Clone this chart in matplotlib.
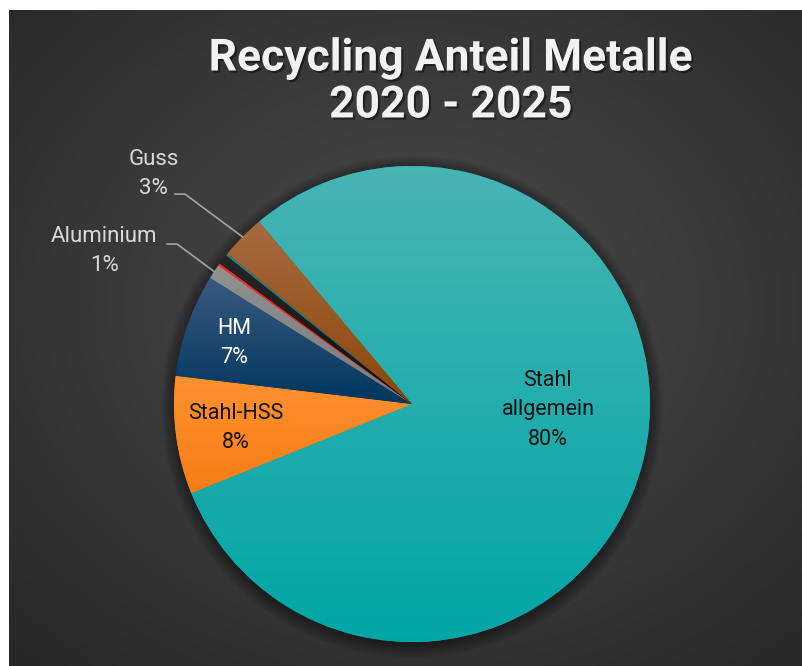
import numpy as np
import matplotlib.pyplot as plt
import matplotlib.patheffects as pe
from matplotlib.patches import Circle
from matplotlib.colors import LinearSegmentedColormap

plt.rcParams['font.family'] = ['Roboto', 'DejaVu Sans']

# Daten
kategorien = ["Stahl allgemein", "Stahl-HSS", "HM", "Aluminium",
              "Sonstige 1", "Sonstige 2", "Sonstige 3", "Guss"]
anteile = [80, 8, 7, 1, 0.15, 0.7, 0.15, 3]
# Farben: (oben, unten) je Segment
farben = [("#48b4b4", "#00a6a6"), ("#ff9130", "#f77d16"), ("#3a5a80", "#00365e"),
          ("#909090", "#7c7c7c"), ("#ff2a2a", "#ee1c1c"), ("#262626", "#101010"),
          ("#2f8080", "#1f6b6b"), ("#a86a42", "#8c4608")]

W, H = 803, 666
fig = plt.figure(figsize=(W / 100, H / 100), dpi=100)
fig.patch.set_facecolor("white")

# Hintergrund mit radialem Verlauf
bg = fig.add_axes([9 / W, 0, (802 - 9) / W, (H - 10) / H])
bg.set_axis_off()
yy, xx = np.mgrid[0:1:400j, 0:1:480j]
d = np.sqrt(((xx - 0.52) / 0.75) ** 2 + ((yy - 0.55) / 0.75) ** 2)
d = np.clip(d, 0, 1)
cmap_bg = LinearSegmentedColormap.from_list("bg", ["#4a4a4a", "#3a3a3a", "#272727"])
bg.imshow(d, cmap=cmap_bg, extent=[0, 1, 0, 1], aspect="auto", origin="lower")
bg.set_xlim(0, 1)
bg.set_ylim(0, 1)

# Kreisdiagramm
cx, cy, r = 412, 404, 238
ax = fig.add_axes([(cx - r * 1.7) / W, (H - cy - r * 1.7) / H, 2 * r * 1.7 / W, 2 * r * 1.7 / H])
ax.set_axis_off()

# Schatten
for i in range(10):
    ax.add_patch(Circle((0.0, -0.012), 1.0 + 0.006 * i, color="black", alpha=0.045, lw=0, zorder=0))

wedges, _ = ax.pie(anteile, startangle=130, counterclock=False, radius=1,
                   wedgeprops=dict(linewidth=0))

for w, (c_top, c_bot) in zip(wedges, farben):
    w.set_facecolor(c_bot)
    ext = w.get_path().get_extents()
    cm = LinearSegmentedColormap.from_list("g", [c_bot, c_top])
    grad = np.linspace(0, 1, 256).reshape(-1, 1)
    im = ax.imshow(grad, cmap=cm, extent=[ext.x0, ext.x1, ext.y0, ext.y1],
                   origin="lower", aspect="auto", zorder=2)
    im.set_clip_path(w)

ax.set_xlim(-1.7, 1.7)
ax.set_ylim(-1.7, 1.7)

# Beschriftungen innen
innen = {
    "Stahl allgemein": ((0.571, -0.025), "Stahl\nallgemein\n80%", "#111111"),
    "Stahl-HSS": ((-0.739, -0.101), "Stahl-HSS\n8%", "#111111"),
    "HM": ((-0.748, 0.256), "HM\n7%", "white"),
}
for name, (pos, txt, col) in innen.items():
    ax.text(pos[0], pos[1], txt, ha="center", va="center", fontsize=15.5,
            color=col, linespacing=1.55, zorder=5)

# Beschriftungen aussen mit Fuehrungslinien
aussen = {
    "Guss": ((-1.085, 0.966), "Guss\n3%", -0.996, 0.882),
    "Aluminium": ((-1.293, 0.643), "Aluminium\n1%", -1.029, 0.672),
}
for w, name in zip(wedges, kategorien):
    if name in aussen:
        pos, txt, lx, ly = aussen[name]
        mid = np.deg2rad((w.theta1 + w.theta2) / 2)
        ex, ey = np.cos(mid), np.sin(mid)
        ax.plot([lx, lx + 0.042, ex], [ly, ly, ey], color="#a6a6a6", lw=1.2, zorder=5)
        ax.text(pos[0], pos[1], txt, ha="center", va="center", fontsize=16,
                color="#d9d9d9", linespacing=1.55, zorder=5)

# Titel
fig.text(451 / W, 1 - 82 / H, "Recycling Anteil Metalle\n2020 - 2025", ha="center", va="center",
         fontsize=32, fontweight="bold", color="#f2f2f2", linespacing=1.15,
         path_effects=[pe.SimplePatchShadow(offset=(1.5, -1.5), shadow_rgbFace="black", alpha=0.45),
                       pe.Normal()])

fig.savefig("out.png", dpi=100)
